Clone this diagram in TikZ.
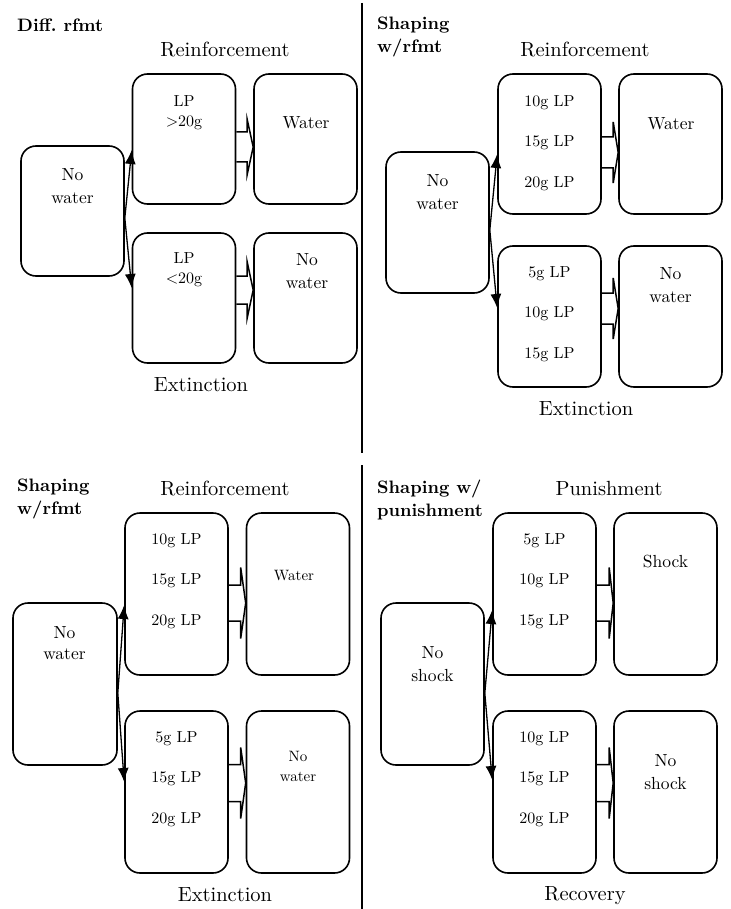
\documentclass[tikz,border=0pt]{standalone}
\usepackage{fontspec}
\setmainfont{lmroman10-regular.otf}[BoldFont=lmroman10-bold.otf]
\usetikzlibrary{calc,arrows.meta}

% block arrow: from node #1 to node #2, centre offset #3 from the rows' middle,
% shaft half height #4, head half height #5, head length #6
\newcommand{\blkarrow}[6]{%
  \draw[blockarrow]
    ($(#1.east)+(0,#3-#4)$) -- ($(#2.west)+(-#6,#3-#4)$)
    -- ($(#2.west)+(-#6,#3-#5)$) -- ($(#2.west)+(0,#3)$)
    -- ($(#2.west)+(-#6,#3+#5)$) -- ($(#2.west)+(-#6,#3+#4)$)
    -- ($(#1.east)+(0,#3+#4)$);}

\tikzset{
  box/.style={draw, line width=1.6pt, rounded corners=15pt, inner sep=0pt,
    minimum width=103pt},
  heading/.style={font=\fontsize{20.5}{24}\selectfont, inner sep=0pt},
  paneltitle/.style={font=\bfseries\fontsize{18}{23}\selectfont, align=left,
    anchor=west, inner sep=0pt},
  lptext/.style={font=\fontsize{16}{40.5}\selectfont, align=center, inner sep=0pt},
  pairtext/.style={font=\fontsize{16}{20}\selectfont, align=center, inner sep=0pt},
  outcome/.style={font=\fontsize{17.5}{22.5}\selectfont, align=center, inner sep=0pt},
  smalloutcome/.style={font=\fontsize{15}{20}\selectfont, align=center, inner sep=0pt},
  blockarrow/.style={line width=1.5pt, line join=miter},
  choice/.style={line width=1.3pt, -{Latex[length=14pt,width=11pt]}},
  divider/.style={line width=2.6pt}
}

\begin{document}
\frenchspacing
\begin{tikzpicture}[x=1pt, y=-1pt]
\useasboundingbox (0,0) rectangle (730,909);

% dividing line between the two columns
\draw[divider] (362,3) -- (362,453);
\draw[divider] (362,465) -- (362,909);

% ---------------- Differential reinforcement ----------------
\node[paneltitle] (tl-title) at (17,25) {Diff. rfmt};
\node[heading] (tl-top) at (225,50) {Reinforcement};
\node[box, minimum height=130pt] (tl-l)  at (72.5,211) {};
\node[box, minimum height=130pt] (tl-u1) at (184,139) {};
\node[box, minimum height=130pt] (tl-u2) at (305.5,139) {};
\node[box, minimum height=130pt] (tl-d1) at (184,298) {};
\node[box, minimum height=130pt] (tl-d2) at (305.5,298) {};
\node[heading] (tl-bot) at (201,385) {Extinction};
\node[outcome] (tl-lt) at (72.5,186) {No\\water};
\node[pairtext] (tl-u1t) at (184,113) {LP\\>20g};
\node[outcome] (tl-u2t) at (306,123) {Water};
\node[pairtext] (tl-d1t) at (184,270) {LP\\<20g};
\node[outcome] (tl-d2t) at (307,271) {No\\water};
\blkarrow{tl-u1}{tl-u2}{8}{15}{27.5}{6}
\blkarrow{tl-d1}{tl-d2}{-8}{14}{28}{6}
\draw[choice] ($(tl-l.east)+(0,7)$) -- ($(tl-u1.west)+(0,11)$);
\draw[choice] ($(tl-l.east)+(0,7)$) -- ($(tl-d1.west)+(0,-10)$);

% ---------------- Shaping with reinforcement (top) ----------------
\node[paneltitle] (tr-title) at (377,36.5) {Shaping\\w/rfmt};
\node[heading] (tr-top) at (585,50) {Reinforcement};
\node[box, minimum height=141pt] (tr-l)  at (437.5,222.5) {};
\node[box, minimum height=140pt] (tr-u1) at (549.5,144) {};
\node[box, minimum height=140pt] (tr-u2) at (670.5,144) {};
\node[box, minimum height=141pt] (tr-d1) at (549.5,316.5) {};
\node[box, minimum height=141pt] (tr-d2) at (670.5,316.5) {};
\node[heading] (tr-bot) at (586,409) {Extinction};
\node[outcome] (tr-lt) at (437.5,192) {No\\water};
\node[lptext] (tr-u1t) at (549.5,143) {10g LP\\15g LP\\20g LP};
\node[outcome] (tr-u2t) at (671,124) {Water};
\node[lptext] (tr-d1t) at (549.5,314) {5g LP\\10g LP\\15g LP};
\node[outcome] (tr-d2t) at (670.5,285) {No\\water};
\blkarrow{tr-u1}{tr-u2}{8.5}{15.5}{30.5}{5}
\blkarrow{tr-d1}{tr-d2}{-8}{15.5}{30.5}{5}
\draw[choice] ($(tr-l.east)+(0,7.5)$) -- ($(tr-u1.west)+(0,10)$);
\draw[choice] ($(tr-l.east)+(0,7.5)$) -- ($(tr-d1.west)+(0,-8.5)$);

% ---------------- Shaping with reinforcement (bottom) ----------------
\node[paneltitle] (bl-title) at (17,499) {Shaping\\w/rfmt};
\node[heading] (bl-top) at (225,488) {Reinforcement};
\node[box, minimum width=104pt, minimum height=162pt] (bl-l) at (65,684) {};
\node[box, minimum height=162pt] (bl-u1) at (176.5,594) {};
\node[box, minimum height=162pt] (bl-u2) at (298,594) {};
\node[box, minimum height=162pt] (bl-d1) at (176.5,792) {};
\node[box, minimum height=162pt] (bl-d2) at (298,792) {};
\node[heading] (bl-bot) at (225,895) {Extinction};
\node[outcome, font=\fontsize{17.5}{21}\selectfont] (bl-lt) at (64.5,643) {No\\water};
\node[lptext] (bl-u1t) at (176.5,581) {10g LP\\15g LP\\20g LP};
\node[smalloutcome] (bl-u2t) at (294,576) {Water};
\node[lptext] (bl-d1t) at (176.5,779) {5g LP\\15g LP\\20g LP};
\node[smalloutcome] (bl-d2t) at (298,766) {No\\water};
\blkarrow{bl-u1}{bl-u2}{9}{18}{35.5}{5}
\blkarrow{bl-d1}{bl-d2}{-9}{18.5}{35.5}{5}
\draw[choice] ($(bl-l.east)+(0,9)$) -- ($(bl-u1.west)+(0,11)$);
\draw[choice] ($(bl-l.east)+(0,9)$) -- ($(bl-d1.west)+(0,-10)$);

% ---------------- Shaping with punishment ----------------
\node[paneltitle] (br-title) at (377,499.5) {Shaping w/\\punishment};
\node[heading] (br-top) at (609,488) {Punishment};
\node[box, minimum height=162pt] (br-l)  at (432.5,684) {};
\node[box, minimum height=162pt] (br-u1) at (544.5,594) {};
\node[box, minimum height=162pt] (br-u2) at (665.5,594) {};
\node[box, minimum height=162pt] (br-d1) at (544.5,792) {};
\node[box, minimum height=162pt] (br-d2) at (665.5,792) {};
\node[heading] (br-bot) at (585,896) {Recovery};
\node[outcome] (br-lt) at (432.5,664) {No\\shock};
\node[lptext] (br-u1t) at (544.5,581) {5g LP\\10g LP\\15g LP};
\node[outcome] (br-u2t) at (665.5,562) {Shock};
\node[lptext] (br-d1t) at (544.5,779) {10g LP\\15g LP\\20g LP};
\node[outcome] (br-d2t) at (665.5,772) {No\\shock};
\blkarrow{br-u1}{br-u2}{9}{18}{35.5}{4}
\blkarrow{br-d1}{br-d2}{-9}{18.5}{35.5}{4}
\draw[choice] ($(br-l.east)+(0,9)$) -- ($(br-u1.west)+(0,16)$);
\draw[choice] ($(br-l.east)+(0,9)$) -- ($(br-d1.west)+(0,-12)$);
\end{tikzpicture}
\end{document}
